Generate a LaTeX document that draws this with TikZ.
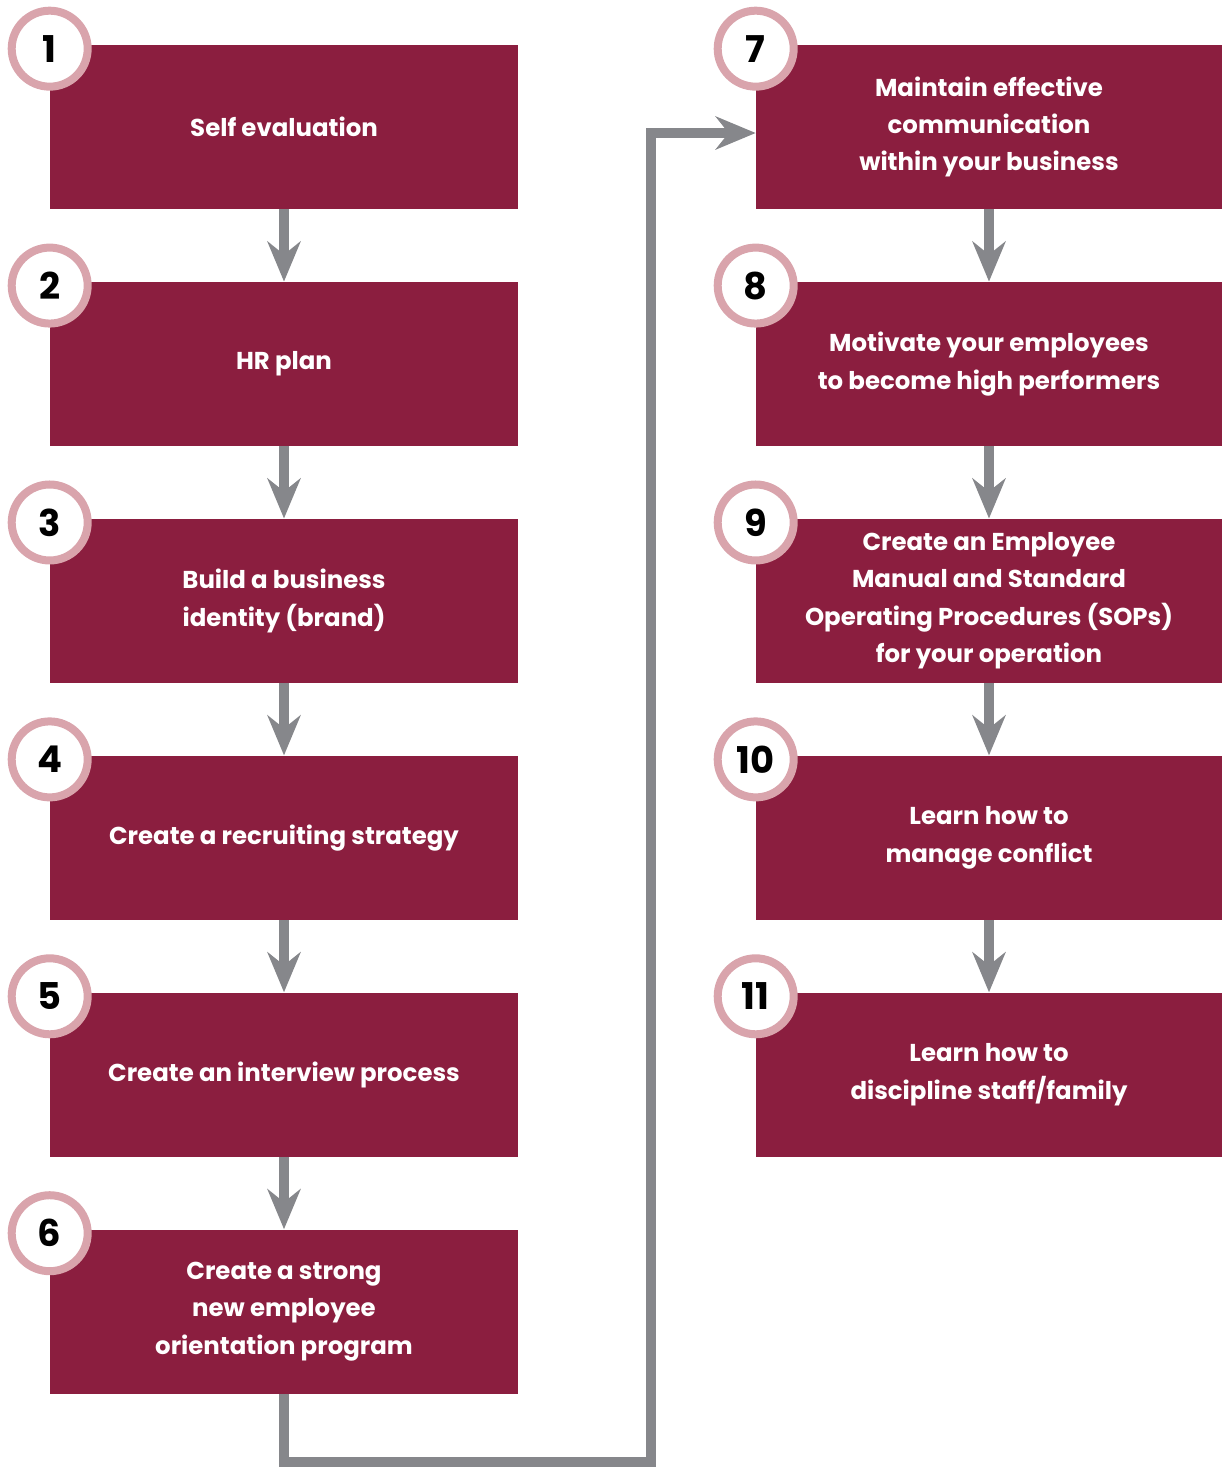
\documentclass[tikz,border=0pt]{standalone}
\usepackage{fontspec}
\setmainfont{Poppins}
\usepackage{tikz}
\usetikzlibrary{arrows.meta, positioning}

\definecolor{boxred}{HTML}{8B1E3F}
\definecolor{ringpink}{HTML}{D9A4AC}
\definecolor{arrowgray}{HTML}{86878B}

\begin{document}
\begin{tikzpicture}[
    x=0.02cm, y=-0.02cm,
    node distance=1.445cm,
    stepbox/.style={rectangle, fill=boxred, text=white, minimum width=9.36cm, minimum height=3.28cm,
        align=center, inner sep=0pt, font=\fontsize{13.9}{21.3}\selectfont\bfseries},
    numcircle/.style={circle, draw=ringpink, line width=0.16cm, fill=white, minimum size=1.52cm,
        inner sep=0pt, font=\fontsize{21}{21}\selectfont\bfseries},
    arrow/.style={-{Stealth[length=0.8cm, width=0.66cm, inset=0.26cm]}, draw=arrowgray, line width=0.2cm}
]
    \useasboundingbox (0,0) rectangle (1222,1468);

    % Left column
    \node[stepbox] (s1) at (284,127) {Self evaluation};
    \node[stepbox, below=of s1] (s2) {HR plan};
    \node[stepbox, below=of s2] (s3) {Build a business\\identity (brand)};
    \node[stepbox, below=of s3] (s4) {Create a recruiting strategy};
    \node[stepbox, below=of s4] (s5) {Create an interview process};
    \node[stepbox, below=of s5] (s6) {Create a strong\\new employee\\orientation program};

    % Right column
    \node[stepbox, minimum width=9.32cm] (s7) at (989,127) {Maintain effective\\communication\\within your business};
    \node[stepbox, minimum width=9.32cm, below=of s7] (s8) {Motivate your employees\\to become high performers};
    \node[stepbox, minimum width=9.32cm, below=of s8] (s9) {Create an Employee\\Manual and Standard\\Operating Procedures (SOPs)\\for your operation};
    \node[stepbox, minimum width=9.32cm, below=of s9] (s10) {Learn how to\\manage conflict};
    \node[stepbox, minimum width=9.32cm, below=of s10] (s11) {Learn how to\\discipline staff/family};

    % Number rings
    \foreach \n in {1,...,11}
        \node[numcircle] (c\n) at ([yshift=-0.08cm]s\n.north west) {\n};

    % Arrows down each column
    \foreach \a/\b in {1/2, 2/3, 3/4, 4/5, 5/6, 7/8, 8/9, 9/10, 10/11}
        \draw[arrow] (s\a) -- (s\b);

    % Link from 6 over to 7
    \coordinate (turn) at (651,1462);
    \draw[arrow] (s6.south) |- (turn) |- ([yshift=-0.12cm]s7.west);
\end{tikzpicture}
\end{document}
